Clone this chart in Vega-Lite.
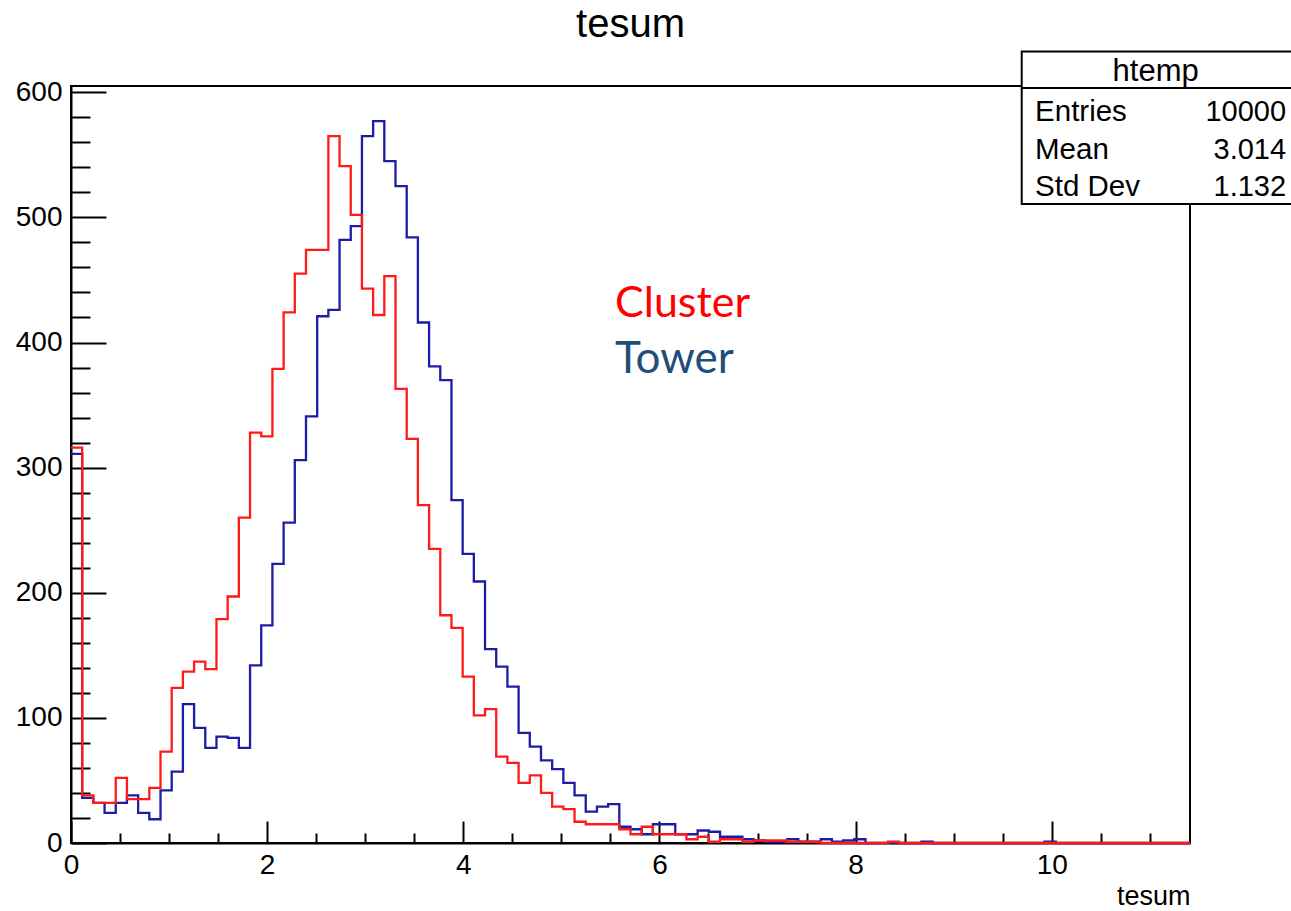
{
  "$schema": "https://vega.github.io/schema/vega-lite/v6.json",
  "width": 1119,
  "height": 757,
  "autosize": {"type": "none"},
  "padding": {"left": 71, "top": 86, "right": 101, "bottom": 68},
  "background": "white",
  "config": {"view": {"stroke": "black", "strokeWidth": 2}, "font": "Liberation Sans"},
  "title": {"text": "tesum", "font": "Liberation Sans", "fontSize": 40, "fontWeight": "normal", "color": "black", "anchor": "middle", "frame": "group", "offset": 6},
  "datasets": {
    "cluster": [
      {"tesum": 0, "entries": 316}, {"tesum": 0.1141, "entries": 38}, {"tesum": 0.2282, "entries": 32}, {"tesum": 0.3423, "entries": 32}, {"tesum": 0.4564, "entries": 52},
      {"tesum": 0.5705, "entries": 35}, {"tesum": 0.6846, "entries": 35}, {"tesum": 0.7987, "entries": 44}, {"tesum": 0.9128, "entries": 73}, {"tesum": 1.0269, "entries": 124},
      {"tesum": 1.141, "entries": 137}, {"tesum": 1.2551, "entries": 145}, {"tesum": 1.3692, "entries": 139}, {"tesum": 1.4833, "entries": 179}, {"tesum": 1.5974, "entries": 197},
      {"tesum": 1.7115, "entries": 260}, {"tesum": 1.8256, "entries": 328}, {"tesum": 1.9397, "entries": 325}, {"tesum": 2.0538, "entries": 379}, {"tesum": 2.1679, "entries": 424},
      {"tesum": 2.282, "entries": 455}, {"tesum": 2.3961, "entries": 474}, {"tesum": 2.5102, "entries": 474}, {"tesum": 2.6243, "entries": 565}, {"tesum": 2.7384, "entries": 541},
      {"tesum": 2.8525, "entries": 502}, {"tesum": 2.9666, "entries": 443}, {"tesum": 3.0807, "entries": 422}, {"tesum": 3.1948, "entries": 453}, {"tesum": 3.3089, "entries": 363},
      {"tesum": 3.423, "entries": 323}, {"tesum": 3.5371, "entries": 270}, {"tesum": 3.6512, "entries": 235}, {"tesum": 3.7653, "entries": 182}, {"tesum": 3.8794, "entries": 172},
      {"tesum": 3.9935, "entries": 133}, {"tesum": 4.1076, "entries": 102}, {"tesum": 4.2217, "entries": 107}, {"tesum": 4.3358, "entries": 69}, {"tesum": 4.4499, "entries": 64},
      {"tesum": 4.564, "entries": 48}, {"tesum": 4.6781, "entries": 54}, {"tesum": 4.7922, "entries": 40}, {"tesum": 4.9063, "entries": 29}, {"tesum": 5.0204, "entries": 27},
      {"tesum": 5.1345, "entries": 17}, {"tesum": 5.2486, "entries": 15}, {"tesum": 5.3627, "entries": 15}, {"tesum": 5.4768, "entries": 15}, {"tesum": 5.5909, "entries": 11},
      {"tesum": 5.705, "entries": 7}, {"tesum": 5.8191, "entries": 13}, {"tesum": 5.9332, "entries": 7}, {"tesum": 6.0473, "entries": 7}, {"tesum": 6.1614, "entries": 7},
      {"tesum": 6.2755, "entries": 3}, {"tesum": 6.3896, "entries": 5}, {"tesum": 6.5037, "entries": 1}, {"tesum": 6.6178, "entries": 3}, {"tesum": 6.7319, "entries": 3},
      {"tesum": 6.846, "entries": 1}, {"tesum": 6.9601, "entries": 2}, {"tesum": 7.0742, "entries": 2}, {"tesum": 7.1883, "entries": 2}, {"tesum": 7.3024, "entries": 1},
      {"tesum": 7.4165, "entries": 1}, {"tesum": 7.5306, "entries": 1}, {"tesum": 7.6447, "entries": 0}, {"tesum": 7.7588, "entries": 0}, {"tesum": 7.8729, "entries": 0},
      {"tesum": 7.987, "entries": 0}, {"tesum": 8.1011, "entries": 0}, {"tesum": 8.2152, "entries": 0}, {"tesum": 8.3293, "entries": 1}, {"tesum": 8.4434, "entries": 0},
      {"tesum": 8.5575, "entries": 0}, {"tesum": 8.6716, "entries": 0}, {"tesum": 8.7857, "entries": 0}, {"tesum": 8.8998, "entries": 0}, {"tesum": 9.0139, "entries": 0},
      {"tesum": 9.128, "entries": 0}, {"tesum": 9.2421, "entries": 0}, {"tesum": 9.3562, "entries": 0}, {"tesum": 9.4703, "entries": 0}, {"tesum": 9.5844, "entries": 0},
      {"tesum": 9.6985, "entries": 0}, {"tesum": 9.8126, "entries": 0}, {"tesum": 9.9267, "entries": 0}, {"tesum": 10.0408, "entries": 0}, {"tesum": 10.1549, "entries": 0},
      {"tesum": 10.269, "entries": 0}, {"tesum": 10.3831, "entries": 0}, {"tesum": 10.4972, "entries": 0}, {"tesum": 10.6113, "entries": 0}, {"tesum": 10.7254, "entries": 0},
      {"tesum": 10.8395, "entries": 0}, {"tesum": 10.9536, "entries": 0}, {"tesum": 11.0677, "entries": 0}, {"tesum": 11.1818, "entries": 0}, {"tesum": 11.2959, "entries": 0},
      {"tesum": 11.41, "entries": 0}
    ],
    "tower": [
      {"tesum": 0, "entries": 311}, {"tesum": 0.1141, "entries": 36}, {"tesum": 0.2282, "entries": 32}, {"tesum": 0.3423, "entries": 24}, {"tesum": 0.4564, "entries": 32},
      {"tesum": 0.5705, "entries": 38}, {"tesum": 0.6846, "entries": 24}, {"tesum": 0.7987, "entries": 19}, {"tesum": 0.9128, "entries": 42}, {"tesum": 1.0269, "entries": 57},
      {"tesum": 1.141, "entries": 111}, {"tesum": 1.2551, "entries": 92}, {"tesum": 1.3692, "entries": 76}, {"tesum": 1.4833, "entries": 85}, {"tesum": 1.5974, "entries": 84},
      {"tesum": 1.7115, "entries": 76}, {"tesum": 1.8256, "entries": 142}, {"tesum": 1.9397, "entries": 174}, {"tesum": 2.0538, "entries": 223}, {"tesum": 2.1679, "entries": 256},
      {"tesum": 2.282, "entries": 306}, {"tesum": 2.3961, "entries": 341}, {"tesum": 2.5102, "entries": 421}, {"tesum": 2.6243, "entries": 426}, {"tesum": 2.7384, "entries": 482},
      {"tesum": 2.8525, "entries": 493}, {"tesum": 2.9666, "entries": 565}, {"tesum": 3.0807, "entries": 577}, {"tesum": 3.1948, "entries": 545}, {"tesum": 3.3089, "entries": 525},
      {"tesum": 3.423, "entries": 484}, {"tesum": 3.5371, "entries": 416}, {"tesum": 3.6512, "entries": 381}, {"tesum": 3.7653, "entries": 370}, {"tesum": 3.8794, "entries": 274},
      {"tesum": 3.9935, "entries": 231}, {"tesum": 4.1076, "entries": 209}, {"tesum": 4.2217, "entries": 155}, {"tesum": 4.3358, "entries": 141}, {"tesum": 4.4499, "entries": 125},
      {"tesum": 4.564, "entries": 88}, {"tesum": 4.6781, "entries": 77}, {"tesum": 4.7922, "entries": 66}, {"tesum": 4.9063, "entries": 59}, {"tesum": 5.0204, "entries": 48},
      {"tesum": 5.1345, "entries": 38}, {"tesum": 5.2486, "entries": 25}, {"tesum": 5.3627, "entries": 29}, {"tesum": 5.4768, "entries": 31}, {"tesum": 5.5909, "entries": 13},
      {"tesum": 5.705, "entries": 11}, {"tesum": 5.8191, "entries": 7}, {"tesum": 5.9332, "entries": 15}, {"tesum": 6.0473, "entries": 15}, {"tesum": 6.1614, "entries": 7},
      {"tesum": 6.2755, "entries": 7}, {"tesum": 6.3896, "entries": 10}, {"tesum": 6.5037, "entries": 9}, {"tesum": 6.6178, "entries": 5}, {"tesum": 6.7319, "entries": 5},
      {"tesum": 6.846, "entries": 3}, {"tesum": 6.9601, "entries": 2}, {"tesum": 7.0742, "entries": 1}, {"tesum": 7.1883, "entries": 1}, {"tesum": 7.3024, "entries": 3},
      {"tesum": 7.4165, "entries": 1}, {"tesum": 7.5306, "entries": 1}, {"tesum": 7.6447, "entries": 3}, {"tesum": 7.7588, "entries": 1}, {"tesum": 7.8729, "entries": 2},
      {"tesum": 7.987, "entries": 3}, {"tesum": 8.1011, "entries": 0}, {"tesum": 8.2152, "entries": 0}, {"tesum": 8.3293, "entries": 0}, {"tesum": 8.4434, "entries": 0},
      {"tesum": 8.5575, "entries": 0}, {"tesum": 8.6716, "entries": 1}, {"tesum": 8.7857, "entries": 0}, {"tesum": 8.8998, "entries": 0}, {"tesum": 9.0139, "entries": 0},
      {"tesum": 9.128, "entries": 0}, {"tesum": 9.2421, "entries": 0}, {"tesum": 9.3562, "entries": 0}, {"tesum": 9.4703, "entries": 0}, {"tesum": 9.5844, "entries": 0},
      {"tesum": 9.6985, "entries": 0}, {"tesum": 9.8126, "entries": 0}, {"tesum": 9.9267, "entries": 1}, {"tesum": 10.0408, "entries": 0}, {"tesum": 10.1549, "entries": 0},
      {"tesum": 10.269, "entries": 0}, {"tesum": 10.3831, "entries": 0}, {"tesum": 10.4972, "entries": 0}, {"tesum": 10.6113, "entries": 0}, {"tesum": 10.7254, "entries": 0},
      {"tesum": 10.8395, "entries": 0}, {"tesum": 10.9536, "entries": 0}, {"tesum": 11.0677, "entries": 0}, {"tesum": 11.1818, "entries": 0}, {"tesum": 11.2959, "entries": 0},
      {"tesum": 11.41, "entries": 0}
    ]
  },
  "layer": [
    {
      "data": {"name": "tower"},
      "mark": {"type": "line", "interpolate": "step-after", "color": "#1c1ca6", "strokeWidth": 2.3},
      "encoding": {
        "x": {"field": "tesum", "type": "quantitative", "scale": {"domain": [0, 11.41], "nice": false, "zero": false},
          "axis": {"orient": "bottom", "values": [0.5, 1, 1.5, 2.5, 3, 3.5, 4.5, 5, 5.5, 6.5, 7, 7.5, 8.5, 9, 9.5, 10.5, 11], "labels": false, "domain": false, "grid": false, "tickSize": -10, "tickWidth": 2, "tickColor": "black", "title": null}},
        "y": {"field": "entries", "type": "quantitative", "scale": {"domain": [0, 605], "nice": false, "zero": false},
          "axis": {"orient": "left", "values": [20, 40, 60, 80, 120, 140, 160, 180, 220, 240, 260, 280, 320, 340, 360, 380, 420, 440, 460, 480, 520, 540, 560, 580], "labels": false, "domain": false, "grid": false, "tickSize": -19, "tickWidth": 2, "tickColor": "black", "title": null}}
      }
    },
    {
      "data": {"name": "cluster"},
      "mark": {"type": "line", "interpolate": "step-after", "color": "#ff1a1a", "strokeWidth": 2.3},
      "encoding": {
        "x": {"field": "tesum", "type": "quantitative", "scale": {"domain": [0, 11.41], "nice": false, "zero": false},
          "axis": {"orient": "bottom", "values": [0, 2, 4, 6, 8, 10], "format": "d", "grid": false, "tickSize": -22, "tickWidth": 2, "tickColor": "black", "domain": true, "domainColor": "black", "domainWidth": 2,
            "labelFont": "Liberation Sans", "labelFontSize": 28, "labelColor": "black", "labelPadding": 30, "labelFlush": false, "labelOverlap": false, "labelBound": false,
            "title": "tesum", "titleFont": "Liberation Sans", "titleFontSize": 27, "titleFontWeight": "normal", "titleColor": "black", "titleAnchor": "end", "titleAlign": "right", "titlePadding": 4}},
        "y": {"field": "entries", "type": "quantitative", "scale": {"domain": [0, 605], "nice": false, "zero": false},
          "axis": {"orient": "left", "values": [0, 100, 200, 300, 400, 500, 600], "format": "d", "grid": false, "tickSize": -35, "tickWidth": 2, "tickColor": "black", "domain": true, "domainColor": "black", "domainWidth": 2,
            "labelFont": "Liberation Sans", "labelFontSize": 28, "labelColor": "black", "labelPadding": 44, "labelFlush": false, "labelOverlap": false, "labelBound": false, "title": null}}
      }
    },
    {
      "data": {"values": [{}]},
      "mark": {"type": "rect", "fill": "white", "stroke": "black", "strokeWidth": 2},
      "encoding": {
        "x": {"datum": 9.694, "type": "quantitative", "scale": {"domain": [0, 11.41], "nice": false, "zero": false}, "axis": null},
        "x2": {"datum": 12.6},
        "y": {"datum": 632.5, "type": "quantitative", "scale": {"domain": [0, 605], "nice": false, "zero": false}, "axis": null},
        "y2": {"datum": 510.6}
      }
    },
    {
      "data": {"values": [{}]},
      "mark": {"type": "rule", "stroke": "black", "strokeWidth": 2},
      "encoding": {
        "x": {"datum": 9.694, "type": "quantitative", "scale": {"domain": [0, 11.41], "nice": false, "zero": false}, "axis": null},
        "x2": {"datum": 12.6},
        "y": {"datum": 603.5, "type": "quantitative", "scale": {"domain": [0, 605], "nice": false, "zero": false}, "axis": null}
      }
    },
    {
      "data": {"values": [{}]},
      "mark": {"type": "text", "text": "htemp", "align": "center", "baseline": "alphabetic", "font": "Liberation Sans", "fontSize": 31, "color": "black"},
      "encoding": {
        "x": {"datum": 11.06, "type": "quantitative", "scale": {"domain": [0, 11.41], "nice": false, "zero": false}, "axis": null},
        "y": {"datum": 609.3, "type": "quantitative", "scale": {"domain": [0, 605], "nice": false, "zero": false}, "axis": null}
      }
    },
    {
      "data": {"values": [{}]},
      "mark": {"type": "text", "text": "Entries", "align": "left", "baseline": "alphabetic", "font": "Liberation Sans", "fontSize": 29.5, "color": "black"},
      "encoding": {
        "x": {"datum": 9.83, "type": "quantitative", "scale": {"domain": [0, 11.41], "nice": false, "zero": false}, "axis": null},
        "y": {"datum": 577.3, "type": "quantitative", "scale": {"domain": [0, 605], "nice": false, "zero": false}, "axis": null}
      }
    },
    {
      "data": {"values": [{}]},
      "mark": {"type": "text", "text": "Mean", "align": "left", "baseline": "alphabetic", "font": "Liberation Sans", "fontSize": 29.5, "color": "black"},
      "encoding": {
        "x": {"datum": 9.83, "type": "quantitative", "scale": {"domain": [0, 11.41], "nice": false, "zero": false}, "axis": null},
        "y": {"datum": 546.6, "type": "quantitative", "scale": {"domain": [0, 605], "nice": false, "zero": false}, "axis": null}
      }
    },
    {
      "data": {"values": [{}]},
      "mark": {"type": "text", "text": "Std Dev", "align": "left", "baseline": "alphabetic", "font": "Liberation Sans", "fontSize": 29.5, "color": "black"},
      "encoding": {
        "x": {"datum": 9.83, "type": "quantitative", "scale": {"domain": [0, 11.41], "nice": false, "zero": false}, "axis": null},
        "y": {"datum": 517.3, "type": "quantitative", "scale": {"domain": [0, 605], "nice": false, "zero": false}, "axis": null}
      }
    },
    {
      "data": {"values": [{}]},
      "mark": {"type": "text", "text": "10000", "align": "right", "baseline": "alphabetic", "font": "Liberation Sans", "fontSize": 29, "color": "black"},
      "encoding": {
        "x": {"datum": 12.39, "type": "quantitative", "scale": {"domain": [0, 11.41], "nice": false, "zero": false}, "axis": null},
        "y": {"datum": 577.3, "type": "quantitative", "scale": {"domain": [0, 605], "nice": false, "zero": false}, "axis": null}
      }
    },
    {
      "data": {"values": [{}]},
      "mark": {"type": "text", "text": "3.014", "align": "right", "baseline": "alphabetic", "font": "Liberation Sans", "fontSize": 29, "color": "black"},
      "encoding": {
        "x": {"datum": 12.39, "type": "quantitative", "scale": {"domain": [0, 11.41], "nice": false, "zero": false}, "axis": null},
        "y": {"datum": 546.6, "type": "quantitative", "scale": {"domain": [0, 605], "nice": false, "zero": false}, "axis": null}
      }
    },
    {
      "data": {"values": [{}]},
      "mark": {"type": "text", "text": "1.132", "align": "right", "baseline": "alphabetic", "font": "Liberation Sans", "fontSize": 29, "color": "black"},
      "encoding": {
        "x": {"datum": 12.39, "type": "quantitative", "scale": {"domain": [0, 11.41], "nice": false, "zero": false}, "axis": null},
        "y": {"datum": 517.3, "type": "quantitative", "scale": {"domain": [0, 605], "nice": false, "zero": false}, "axis": null}
      }
    },
    {
      "data": {"values": [{}]},
      "mark": {"type": "text", "text": "Cluster", "align": "left", "baseline": "alphabetic", "font": "Lato", "fontSize": 43, "color": "#ff0000"},
      "encoding": {
        "x": {"datum": 5.547, "type": "quantitative", "scale": {"domain": [0, 11.41], "nice": false, "zero": false}, "axis": null},
        "y": {"datum": 420, "type": "quantitative", "scale": {"domain": [0, 605], "nice": false, "zero": false}, "axis": null}
      }
    },
    {
      "data": {"values": [{}]},
      "mark": {"type": "text", "text": "Tower", "align": "left", "baseline": "alphabetic", "font": "Lato", "fontSize": 44, "color": "#1f4e79"},
      "encoding": {
        "x": {"datum": 5.547, "type": "quantitative", "scale": {"domain": [0, 11.41], "nice": false, "zero": false}, "axis": null},
        "y": {"datum": 376, "type": "quantitative", "scale": {"domain": [0, 605], "nice": false, "zero": false}, "axis": null}
      }
    }
  ],
  "resolve": {"axis": {"x": "independent", "y": "independent"}}
}
